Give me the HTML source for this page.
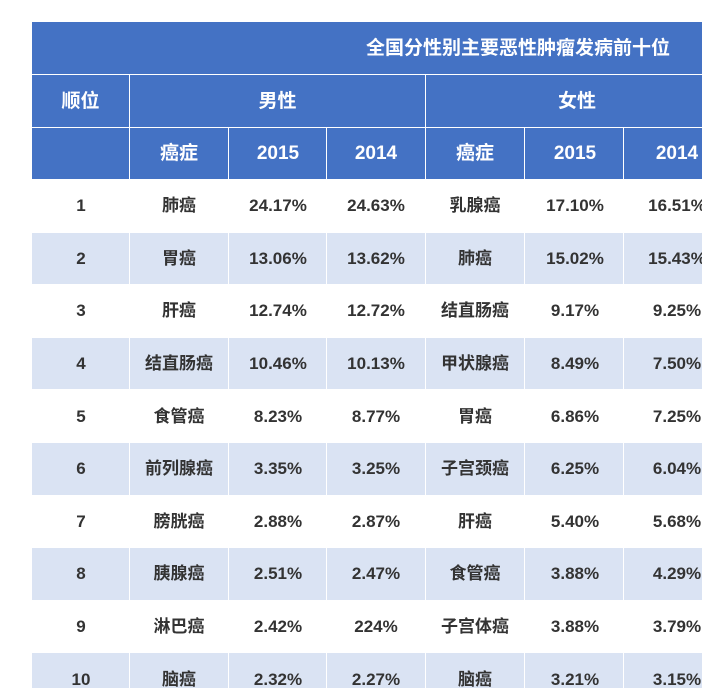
<!DOCTYPE html>
<html><head><meta charset="utf-8"><style>
body{margin:0;width:702px;height:688px;overflow:hidden;background:#fff;font-family:"Liberation Sans","Noto Sans CJK SC",sans-serif}
#wrap{position:absolute;left:0;top:0;width:702px;height:688px;overflow:hidden}
.c{position:absolute;box-sizing:border-box;display:flex;align-items:center;justify-content:center;font-weight:bold;font-size:17px;color:#333;line-height:1;border-right:1.5px solid #fff;border-bottom:1.5px solid #fff}
.h{background:#4472c4;color:#fff;font-size:19px}
.alt{background:#dae3f3}
</style></head><body>
<div id="wrap"></div>
<script>
const ranks=[1,2,3,4,5,6,7,8,9,10];
const maleCancer=["肺癌","胃癌","肝癌","结直肠癌","食管癌","前列腺癌","膀胱癌","胰腺癌","淋巴癌","脑癌"];
const male2015=["24.17%","13.06%","12.74%","10.46%","8.23%","3.35%","2.88%","2.51%","2.42%","2.32%"];
const male2014=["24.63%","13.62%","12.72%","10.13%","8.77%","3.25%","2.87%","2.47%","224%","2.27%"];
const femaleCancer=["乳腺癌","肺癌","结直肠癌","甲状腺癌","胃癌","子宫颈癌","肝癌","食管癌","子宫体癌","脑癌"];
const female2015=["17.10%","15.02%","9.17%","8.49%","6.86%","6.25%","5.40%","3.88%","3.88%","3.21%"];
const female2014=["16.51%","15.43%","9.25%","7.50%","7.25%","6.04%","5.68%","4.29%","3.79%","3.15%"];
const W=document.getElementById('wrap');
const colX=[32,130,229,327,426,525,624,722];
const centers=[81,179,278,376,475,575,677];
function cell(x,y,w,h,txt,cls,name,cx){
  const d=document.createElement('div');
  d.className='c '+cls;
  
  
  d.style.left=x+'px';d.style.top=y+'px';d.style.width=w+'px';d.style.height=h+'px';
  if(cx!==undefined){d.style.justifyContent='flex-start';d.style.paddingLeft='0';const s=document.createElement('span');s.textContent=txt;s.style.position='absolute';s.style.left=cx+'px';s.style.transform='translateX(-50%)';s.style.whiteSpace='nowrap';d.appendChild(s);}
  else d.textContent=txt;
  W.appendChild(d);
}
cell(32,22,700,53,'全国分性别主要恶性肿瘤发病前十位','h','table-title',518-32);
cell(32,75,98,53,'顺位','h','rank-header');
cell(130,75,296,53,'男性','h','male-header');
cell(426,75,300,53,'女性','h','female-header',577-426);
const sub=['','癌症','2015','2014','癌症','2015','2014'];
sub.forEach((s,j)=>{const w=colX[j+1]-colX[j];cell(colX[j],128,w,52,s,'h','subheader-'+j,centers[j]-colX[j]);});
ranks.forEach((r,i)=>{
  const y=180+i*52.6;
  const vals=[r,maleCancer[i],male2015[i],male2014[i],femaleCancer[i],female2015[i],female2014[i]];
  vals.forEach((v,j)=>{const w=colX[j+1]-colX[j];cell(colX[j],y,w,52.6,String(v),i%2?'alt':'','cell-'+r+'-'+j,centers[j]-colX[j]);});
});
</script>
</body></html>
